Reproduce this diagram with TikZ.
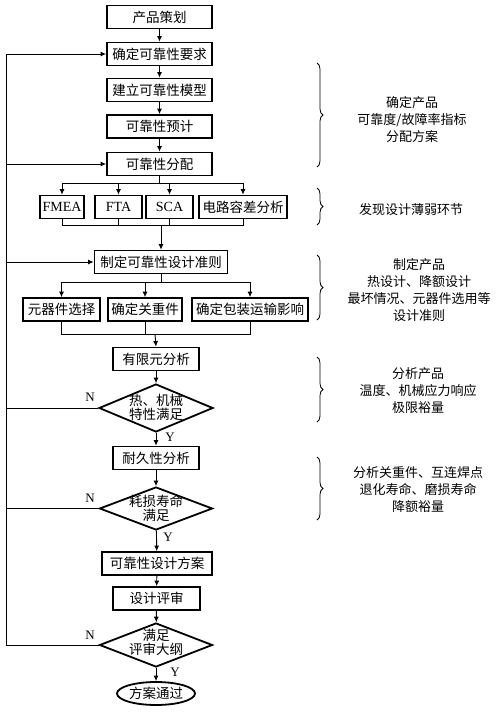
\documentclass[tikz,border=0pt]{standalone}
\usepackage{fontspec}
\setmainfont{Liberation Serif}
\newfontfamily\cjk{Noto Sans CJK SC}
\usetikzlibrary{shapes.geometric,arrows.meta,decorations.pathreplacing}
\begin{document}
\begin{tikzpicture}[x=1pt,y=-1pt,
  every node/.style={font=\cjk\fontsize{13.5}{15}\selectfont},
  box/.style={draw,line width=1.8pt,minimum height=23pt,inner sep=0pt,align=center},
  lat/.style={font=\fontsize{14}{15}\selectfont},
  dia/.style={draw,diamond,line width=1.8pt,inner sep=0pt},
  lab/.style={align=center,inner sep=0pt,font=\cjk\fontsize{13}{17}\selectfont},
  dlab/.style={align=center,inner sep=0pt,font=\cjk\fontsize{13.5}{14}\selectfont},
  yn/.style={inner sep=0pt,font=\fontsize{13}{13}\selectfont},
  conn/.style={line width=0.9pt},
  arr/.style={conn,-{Latex[length=5.5pt,width=5pt]}},
  br/.style={line width=0.8pt,decorate,decoration={brace,amplitude=6pt}}]
\useasboundingbox[fill=white] (0,0) rectangle (500,713);
% main column
\node[box,minimum width=105pt] (a1) at (159.5,17) {产品策划};
\node[box,minimum width=105pt] (a2) at (159.5,54) {确定可靠性要求};
\node[box,minimum width=105pt] (a3) at (159.5,90) {建立可靠性模型};
\node[box,minimum width=105pt] (a4) at (159.5,126.5) {可靠性预计};
\node[box,minimum width=105pt] (a5) at (159.5,164) {可靠性分配};
\draw[arr] (a1) -- (a2);
\draw[arr] (a2) -- (a3);
\draw[arr] (a3) -- (a4);
\draw[arr] (a4) -- (a5);
% analyses
\node[box,lat,minimum width=44pt] (b1) at (62,207) {FMEA};
\node[box,lat,minimum width=47pt] (b2) at (118.5,207) {FTA};
\node[box,lat,minimum width=47pt] (b3) at (169.5,207) {SCA};
\node[box,minimum width=88pt] (b4) at (243,207) {电路容差分析};
\coordinate (s1) at (159.5,183);
\draw[conn] (a5.south) -- (s1);
\draw[conn] (b1.north |- s1) -- (b4.north |- s1);
\foreach \n in {b1,b2,b3,b4} \draw[arr] (\n.north |- s1) -- (\n.north);
% criteria
\node[box,minimum width=133pt] (c1) at (161,262) {制定可靠性设计准则};
\coordinate (s2) at (161,225);
\draw[conn] (b1.south) -- (b1.south |- s2) -- (b4.south |- s2) -- (b4.south);
\draw[conn] (b2.south) -- (b2.south |- s2);
\draw[conn] (b3.south) -- (b3.south |- s2);
\draw[arr] (s2) -- (c1.north);
\node[box,minimum width=77pt] (d1) at (61.5,309.5) {元器件选择};
\node[box,minimum width=74pt] (d2) at (145,309.5) {确定关重件};
\node[box,minimum width=116pt] (d3) at (250,309.5) {确定包装运输影响};
\coordinate (s3) at (161,282);
\draw[conn] (c1.south) -- (s3);
\draw[conn] (d1.north |- s3) -- (d3.north |- s3);
\foreach \n in {d1,d2,d3} \draw[arr] (\n.north |- s3) -- (\n.north);
\coordinate (s4) at (155,334);
\draw[conn] (d1.south) -- (d1.south |- s4) -- (d3.south |- s4) -- (d3.south);
\draw[conn] (d2.south) -- (d2.south |- s4);
% lower column
\node[box,minimum width=86pt] (e1) at (156,359) {有限元分析};
\draw[arr] (s4) -- (e1.north);
\node[dia,minimum width=114pt,minimum height=48pt] (q1) at (156,408) {};
\node[dlab] (q1t) at (156,407) {热、机械\\特性满足};
\draw[arr] (e1) -- (q1);
\node[box,minimum width=86pt] (e2) at (156,458) {耐久性分析};
\draw[arr] (q1) -- (e2);
\node[yn] (y1) at (170,437) {Y};
\node[dia,minimum width=113pt,minimum height=43pt] (q2) at (156,508.5) {};
\node[dlab] (q2t) at (156,508) {耗损寿命\\满足};
\draw[arr] (e2) -- (q2);
\node[box,minimum width=110pt] (e3) at (157,563.5) {可靠性设计方案};
\draw[arr] (q2) -- (e3);
\node[yn] (y2) at (168,537) {Y};
\node[box,minimum width=87pt] (e4) at (156.5,598.5) {设计评审};
\draw[arr] (e3) -- (e4);
\node[dia,minimum width=113pt,minimum height=44pt] (q3) at (156,645) {};
\node[dlab] (q3t) at (156,642) {满足\\评审大纲};
\draw[arr] (e4) -- (q3);
\node[draw,ellipse,line width=1.8pt,minimum width=78pt,minimum height=23pt,inner sep=0pt] (f1) at (156,693.5) {方案通过};
\draw[arr] (q3) -- (f1);
\node[yn] (y3) at (175,672) {Y};
% feedback
\coordinate (L3) at (6,645);
\coordinate (L0) at (6,54);
\draw[conn] (q3.west) -- (L3) -- (L0);
\draw[arr] (L0) -- (a2.west);
\draw[arr] (L0 |- a5) -- (a5.west);
\draw[arr] (L0 |- c1) -- (c1.west);
\draw[conn] (q1.west) -- (L0 |- q1);
\draw[conn] (q2.west) -- (L0 |- q2);
\node[yn] (n1) at (90,397) {N};
\node[yn] (n2) at (90,498) {N};
\node[yn] (n3) at (90,635) {N};
% braces and notes
\draw[br] (317,63) -- (317,167);
\node[lab] (t1) at (412,120) {确定产品\\可靠度/故障率指标\\分配方案};
\draw[br] (317,188) -- (317,225);
\node[lab] (t2) at (411,210) {发现设计薄弱环节};
\draw[br] (317,255) -- (317,320);
\node[lab] (t3) at (419,290) {制定产品\\热设计、降额设计\\最坏情况、元器件选用等\\设计准则};
\draw[br] (317,357) -- (317,422);
\node[lab] (t4) at (418,391) {分析产品\\温度、机械应力响应\\极限裕量};
\draw[br] (317,457) -- (317,520);
\node[lab] (t5) at (418,490) {分析关重件、互连焊点\\退化寿命、磨损寿命\\降额裕量};
\end{tikzpicture}
\end{document}
